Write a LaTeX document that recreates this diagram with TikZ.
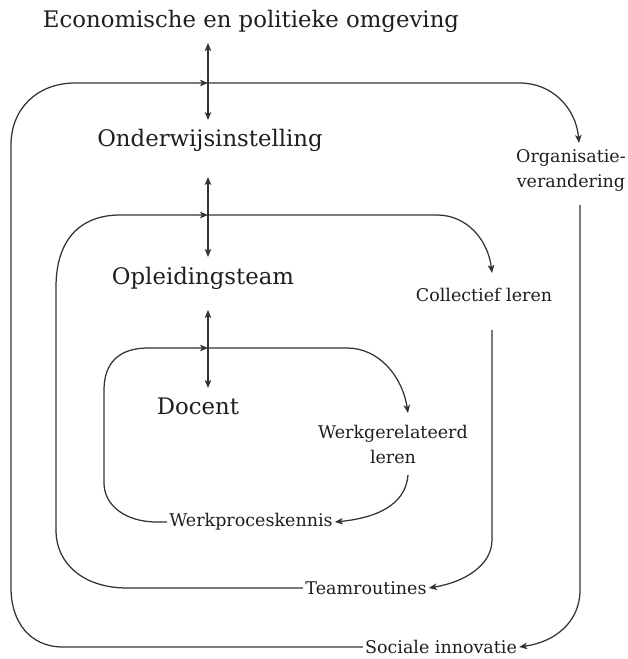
\documentclass[tikz,border=0pt]{standalone}
\usepackage{fontspec}
\setmainfont{DejaVu Serif}
\usetikzlibrary{arrows.meta}
\definecolor{linegray}{HTML}{333333}
\definecolor{txt}{HTML}{1E1E1E}
\begin{document}
\begin{tikzpicture}[x=1pt,y=-1pt,
  flow/.style={draw=linegray, line width=1.25pt},
  tip/.style={-{Stealth[length=8pt,width=6.5pt,inset=2pt]}},
  dbl/.style={{Stealth[length=8pt,width=6.5pt,inset=2pt]}-{Stealth[length=8pt,width=6.5pt,inset=2pt]}},
  big/.style={font=\fontsize{22.8}{27}\selectfont, text=txt, inner sep=0pt},
  small/.style={font=\fontsize{17.5}{25}\selectfont, text=txt, inner sep=2pt, align=center}]
\useasboundingbox (0,0) rectangle (628,659);

% labels
\node[big, anchor=base] (econ) at (251,27) {Economische en politieke omgeving};
\node[big, anchor=base] (onder) at (210,146) {Onderwijsinstelling};
\node[big, anchor=base] (opl) at (203,284) {Opleidingsteam};
\node[big, anchor=base] (doc) at (198,414) {Docent};
\node[small] (org) at (571,170) {Organisatie-\\verandering};
\node[small] (coll) at (484,295) {Collectief leren};
\node[small] (werk) at (393,444) {Werkgerelateerd\\leren};
\node[small] (wpk) at (251,522) {Werkproceskennis};
\node[small] (team) at (366,588) {Teamroutines};
\node[small] (soc) at (441,647) {Sociale innovatie};

% axis points
\coordinate (a1) at (208,83);
\coordinate (a2) at (208,215);
\coordinate (a3) at (208,348);

% vertical double arrows
\coordinate (v1t) at (208,43);  \coordinate (v1b) at (208,120);
\coordinate (v2t) at (208,177); \coordinate (v2b) at (208,257);
\coordinate (v3t) at (208,310); \coordinate (v3b) at (208,388);
\draw[flow, dbl] (v1t) -- (v1b);
\draw[flow, dbl] (v2t) -- (v2b);
\draw[flow, dbl] (v3t) -- (v3b);

% outer loop
\coordinate (o1) at (579,143);
\coordinate (o2) at (580,205);
\draw[flow, tip] (soc.west) -- (63,647) .. controls (30,647) and (11,622) .. (11,588)
  -- (11,145) .. controls (11,108) and (38,83) .. (75,83) -- (a1);
\draw[flow, tip] (a1) -- (520,83) .. controls (552,83) and (576,108) .. (o1);
\draw[flow, tip] (o2) -- (580,590) .. controls (580,622) and (555,642) .. (soc.east);

% middle loop
\coordinate (m1) at (492,273);
\coordinate (m2) at (492,330);
\draw[flow, tip] (team.west) -- (127,588) .. controls (85,588) and (56,565) .. (56,530)
  -- (56,287) .. controls (56,240) and (80,215) .. (120,215) -- (a2);
\draw[flow, tip] (a2) -- (437,215) .. controls (467,215) and (488,240) .. (m1);
\draw[flow, tip] (m2) -- (492,540) .. controls (492,565) and (465,582) .. (team.east);

% inner loop
\coordinate (i1) at (408,413);
\coordinate (i2) at (408,475);
\draw[flow, tip] (wpk.west) -- (157,522) .. controls (125,522) and (104,505) .. (104,483)
  -- (104,390) .. controls (104,362) and (120,348) .. (148,348) -- (a3);
\draw[flow, tip] (a3) -- (347,348) .. controls (378,348) and (402,375) .. (i1);
\draw[flow, tip] (i2) .. controls (406,500) and (385,517) .. (wpk.east);
\end{tikzpicture}
\end{document}
